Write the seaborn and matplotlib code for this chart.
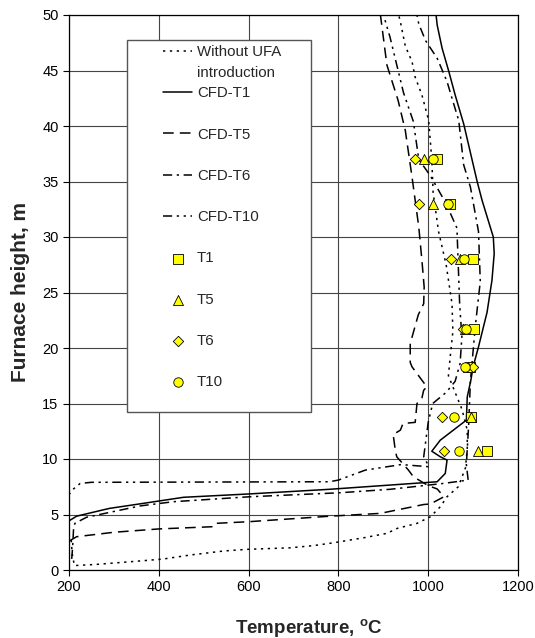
import numpy as np
import pandas as pd
import seaborn as sns
import matplotlib
matplotlib.use("Agg")
from matplotlib import pyplot as plt
from matplotlib.patches import Rectangle

# CFD temperature profiles along furnace height (temperature, height)
without_T = [205, 207, 212, 260, 366, 410, 470, 544, 596, 693, 745, 789, 856, 908, 931, 975,
             1005, 1027, 1042, 1067, 1083, 1087, 1087, 1075, 1060, 1045, 1049, 1055, 1053, 1040,
             1023, 1011, 1008, 1001, 986, 971, 964, 949, 938, 933]
without_H = [2.7, 1.5, 0.4, 0.5, 0.84, 0.99, 1.35, 1.71, 1.86, 2.0, 2.2, 2.45, 2.9, 3.3, 3.75, 4.2,
             4.8, 5.7, 6.6, 7.5, 9.2, 11.0, 12.6, 14.5, 16.0, 17.5, 19.2, 21.5, 24.0, 27.5,
             30.5, 34.0, 37.0, 40.5, 42.8, 44.4, 45.8, 47.2, 49.4, 50.2]

cfd_t1_T = [195, 217, 290, 365, 455, 600, 780, 1020, 1038, 1042, 1027, 1008, 1027, 1085, 1087,
            1095, 1100, 1112, 1131, 1142, 1147, 1145, 1120, 1109, 1079, 1060, 1046, 1031, 1020, 1017]
cfd_t1_H = [4.3, 4.85, 5.55, 6.0, 6.55, 6.85, 7.27, 7.95, 8.7, 9.9, 10.2, 10.7, 11.7, 13.5, 15.6,
            17.1, 18.3, 20.1, 23.2, 26.1, 28.5, 30.0, 33.3, 35.0, 40.2, 42.8, 44.9, 47.0, 49.1, 50.2]

cfd_t5_T = [200, 217, 300, 400, 520, 525, 600, 782, 893, 990, 1005, 1035, 1020, 1000, 967, 956,
            930, 927, 922, 938, 944, 971, 975, 986, 990, 997, 964, 960, 960, 978, 990, 991, 986,
            979, 971, 964, 949, 933, 908, 893]
cfd_t5_H = [2.6, 3.0, 3.4, 3.7, 3.9, 4.2, 4.35, 4.85, 5.1, 5.9, 5.95, 6.6, 7.3, 7.6, 8.4, 9.0,
            10.2, 10.7, 12.2, 12.6, 13.2, 13.3, 15.0, 15.5, 16.2, 16.5, 18.3, 18.7, 20.4, 23.0, 24.0,
            25.5, 27.9, 30.9, 33.3, 35.4, 39.6, 42.3, 45.5, 50.2]

cfd_t6_T = [206, 208, 210, 213, 239, 358, 432, 603, 804, 915, 1034, 1089, 1085, 1090, 1094, 1105,
            1116, 1112, 1094, 1079, 1068, 1053, 1042, 1020, 994, 979, 974]
cfd_t6_H = [1.0, 2.0, 3.6, 4.2, 4.75, 5.77, 6.15, 6.6, 6.96, 7.27, 7.8, 8.1, 9.5, 13.0, 17.0, 22.0,
            26.0, 30.5, 34.5, 36.5, 40.5, 42.5, 44.0, 46.1, 47.7, 49.2, 50.2]

cfd_t10_T = [195, 200, 210, 225, 250, 780, 800, 860, 940, 1002, 990, 1000, 1010, 1040, 1060, 1071,
             1075, 1070, 1064, 1040, 1005, 979, 967, 945, 930, 915, 899]
cfd_t10_H = [6.2, 6.8, 7.3, 7.8, 7.9, 7.95, 8.1, 9.0, 9.5, 9.3, 10.2, 13.3, 15.0, 16.0, 17.0, 18.6,
             21.0, 24.0, 30.8, 33.0, 35.5, 37.0, 40.4, 43.0, 45.5, 48.0, 50.2]

# measured temperatures at the ports
meas_H = [10.7, 13.8, 18.3, 21.7, 28.0, 33.0, 37.0]
meas_t1 = [1130, 1095, 1093, 1102, 1100, 1048, 1020]
meas_t5 = [1110, 1095, 1088, 1082, 1070, 1010, 990]
meas_t6 = [1035, 1030, 1100, 1078, 1050, 980, 970]
meas_t10 = [1068, 1058, 1083, 1085, 1080, 1045, 1010]

x_ticks = [200, 400, 600, 800, 1000, 1200]
y_ticks = [0, 5, 10, 15, 20, 25, 30, 35, 40, 45, 50]

sns.set_style("white")
plt.rcParams["font.family"] = ["Liberation Sans", "DejaVu Sans"]
plt.rcParams["mathtext.fontset"] = "custom"
plt.rcParams["mathtext.rm"] = "Liberation Sans"
plt.rcParams["mathtext.bf"] = "Liberation Sans:bold"

W, H = 535, 638
fig = plt.figure(figsize=(W / 100, H / 100), dpi=100)
ax = fig.add_axes([69 / W, 1 - 570 / H, (518 - 69) / W, (570 - 15) / H])

profiles = [
    ("Without UFA", without_T, without_H, (0, (1.5, 3))),
    ("CFD-T1", cfd_t1_T, cfd_t1_H, "-"),
    ("CFD-T5", cfd_t5_T, cfd_t5_H, (0, (7, 4))),
    ("CFD-T6", cfd_t6_T, cfd_t6_H, (0, (6, 3, 1.5, 3))),
    ("CFD-T10", cfd_t10_T, cfd_t10_H, (0, (6, 3, 1.5, 3, 1.5, 3))),
]
for name, tx, hy, ls in profiles:
    sns.lineplot(x=tx, y=hy, sort=False, estimator=None, color="black",
                 linewidth=1.1, linestyle=ls, label=name, ax=ax)

points = [
    ("T1", meas_t1, "s", 44),
    ("T5", meas_t5, "^", 52),
    ("T6", meas_t6, "D", 28),
    ("T10", meas_t10, "o", 46),
]
for name, tx, mk, sz in points:
    sns.scatterplot(x=tx, y=meas_H, marker=mk, s=sz, color="#FFFF00",
                    edgecolor="black", linewidth=0.6, label=name, ax=ax, zorder=3)

ax.set_xlim(200, 1200)
ax.set_ylim(0, 50)
ax.set_xticks(x_ticks)
ax.set_yticks(y_ticks)
ax.grid(True, color="#444444", linewidth=0.8)
ax.set_axisbelow(True)
for sp in ax.spines.values():
    sp.set_color("black")
    sp.set_linewidth(0.9)
ax.tick_params(direction="out", length=4, width=0.8, bottom=True, left=True,
               colors="black", labelsize=10.5)

ax.set_xlabel(r"Temperature, $\mathbf{^{o}}$C", fontsize=13.5, fontweight="bold")
ax.xaxis.set_label_coords(0.535, -0.085)
ax.set_ylabel("Furnace height, m", fontsize=15, fontweight="bold", labelpad=9)

# legend box drawn separately, entries placed on top
box = Rectangle((127 / W, 1 - 412 / H), (311 - 127) / W, (412 - 40) / H,
                transform=fig.transFigure, facecolor="white", edgecolor="#555555",
                linewidth=1.0, zorder=4)
ax.add_patch(box)
box.set_clip_on(False)

handles, labels = ax.get_legend_handles_labels()
leg = ax.legend(handles, labels, loc="upper left",
                bbox_to_anchor=(163 / W, 1 - 45 / H), bbox_transform=fig.transFigure,
                frameon=False, borderpad=0, borderaxespad=0, fontsize=10.8,
                handlelength=1.95, handletextpad=0.3, labelspacing=1.82)
leg.set_zorder(5)

fig.canvas.draw()
bb = leg.get_texts()[0].get_window_extent()
fig.text(bb.x0 / W, (bb.y0 - 7) / H, "introduction", fontsize=10.8,
         ha="left", va="top", zorder=6)

fig.savefig("out.png", dpi=100)
